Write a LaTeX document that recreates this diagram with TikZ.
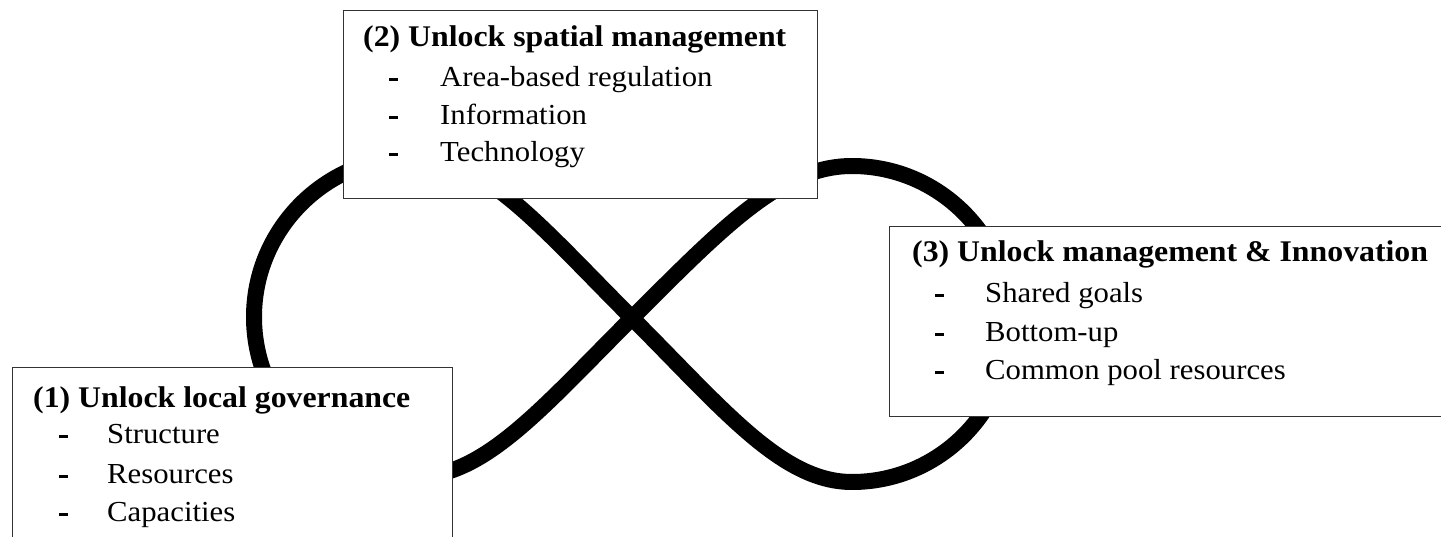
\documentclass[tikz,border=0pt]{standalone}
\usepackage{fontspec}
\setmainfont[FakeStretch=1.06]{Liberation Serif}
\begin{document}
\begin{tikzpicture}[x=1pt,y=-1pt,
  panel/.style={draw=black!80, line width=1.3pt, fill=white, inner sep=0pt, anchor=north west},
  head/.style={anchor=base west, inner sep=0pt, font=\fontsize{30}{36}\selectfont\bfseries},
  entry/.style={anchor=base west, inner sep=0pt, font=\fontsize{29}{35}\selectfont},
  dashmark/.style={anchor=base west, inner sep=0pt},
  infinity/.style={line width=16pt, line join=round, draw=black}]
\useasboundingbox (0,0) rectangle (1441,537);
\newcommand{\bulletdash}{\rule[5.5pt]{9pt}{3pt}}

% figure-eight loop
\coordinate (C) at (632,318);
\coordinate (LT) at (414,157);
\coordinate (LL) at (254,317);
\coordinate (LB) at (414,477);
\coordinate (RT) at (852,166);
\coordinate (RR) at (1010,324);
\coordinate (RB) at (852,482);
\draw[infinity]
  (C) .. controls (540,226) and (484,157) .. (LT)
      .. controls (326,157) and (254,229) .. (LL)
      .. controls (254,405) and (326,477) .. (LB)
      .. controls (484,477) and (540,410) .. (C)
      .. controls (724,226) and (782,166) .. (RT)
      .. controls (939,166) and (1010,237) .. (RR)
      .. controls (1010,411) and (939,482) .. (RB)
      .. controls (782,482) and (724,410) .. (C) -- cycle;

% panel 1
\node[panel, minimum width=440pt, minimum height=200pt] (box1) at (12,367) {};
\node[head] (t1) at (33,407) {(1) Unlock local governance};
\node[dashmark] (d11) at (59,443) {\bulletdash};
\node[entry] (e11) at (107,443) {Structure};
\node[dashmark] (d12) at (59,483) {\bulletdash};
\node[entry] (e12) at (107,483) {Resources};
\node[dashmark] (d13) at (59,521) {\bulletdash};
\node[entry] (e13) at (107,521) {Capacities};

% panel 2
\node[panel, minimum width=474pt, minimum height=188pt] (box2) at (343,10) {};
\node[head] (t2) at (363,47) {(2) Unlock spatial management};
\node[dashmark] (d21) at (389,87) {\bulletdash};
\node[entry] (e21) at (440,87) {Area-based regulation};
\node[dashmark] (d22) at (389,125) {\bulletdash};
\node[entry] (e22) at (440,125) {Information};
\node[dashmark] (d23) at (389,162) {\bulletdash};
\node[entry] (e23) at (440,162) {Technology};

% panel 3
\node[panel, minimum width=570pt, minimum height=190pt] (box3) at (889,226) {};
\node[head] (t3) at (912,262) {(3) Unlock management \& Innovation};
\node[dashmark] (d31) at (935,303) {\bulletdash};
\node[entry] (e31) at (985,303) {Shared goals};
\node[dashmark] (d32) at (935,342) {\bulletdash};
\node[entry] (e32) at (985,342) {Bottom-up};
\node[dashmark] (d33) at (935,380) {\bulletdash};
\node[entry] (e33) at (985,380) {Common pool resources};
\end{tikzpicture}
\end{document}
